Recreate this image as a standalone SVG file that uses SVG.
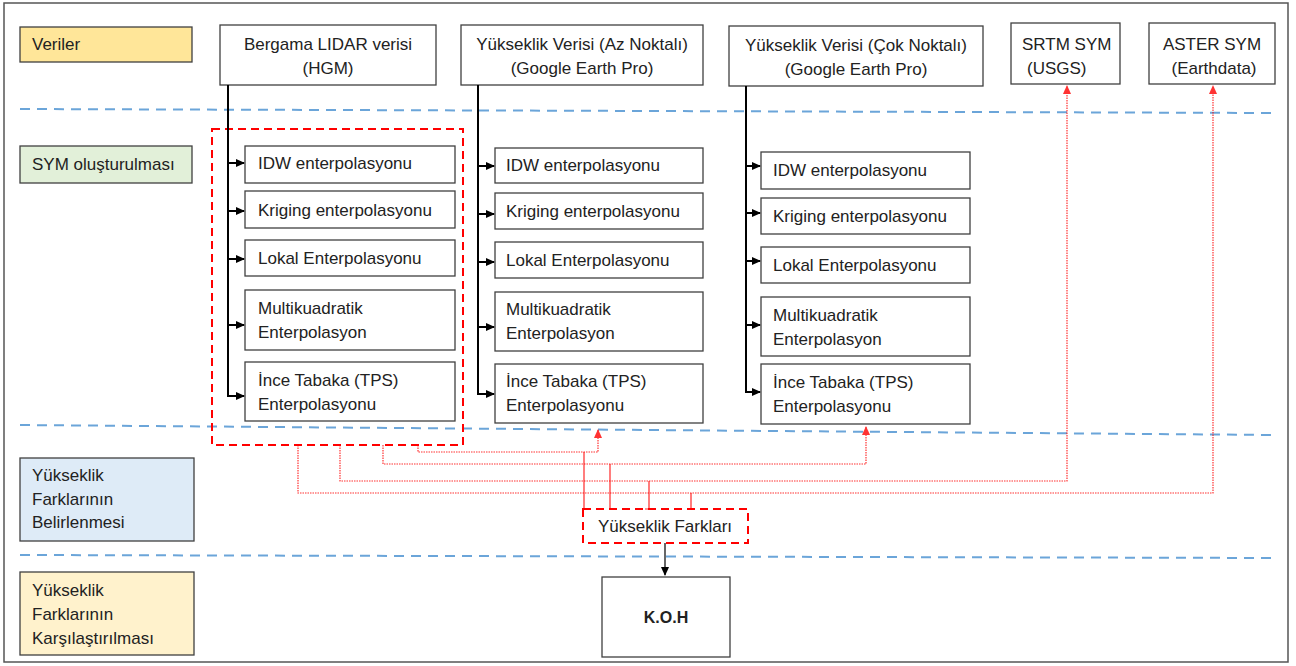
<svg xmlns="http://www.w3.org/2000/svg" width="1296" height="666" viewBox="0 0 1296 666">
<defs>
<marker id="ab" markerWidth="9" markerHeight="9" refX="8" refY="4.5" orient="auto" markerUnits="userSpaceOnUse"><path d="M0,0.5 L9,4.5 L0,8.5 z" fill="#000"/></marker>
<marker id="ar" markerWidth="9" markerHeight="9" refX="8" refY="4.5" orient="auto" markerUnits="userSpaceOnUse"><path d="M0,0.5 L9,4.5 L0,8.5 z" fill="#ff0000"/></marker>
</defs>
<style>
text{font-family:"Liberation Sans",Arial,sans-serif;font-size:17px;fill:#222}
.box{fill:#fff;stroke:#404040;stroke-width:1.3}
.lbl{stroke:#404040;stroke-width:1.3}
.c{text-anchor:middle}
.blue{stroke:#5b9bd5;stroke-width:2;stroke-dasharray:10,7;fill:none;opacity:0.9}
.rdash{fill:none;stroke:#ff0000;stroke-width:2;stroke-dasharray:8,5}
.blk{stroke:#000;stroke-width:2;fill:none}
.rdot{stroke:#ff0000;stroke-width:1.2;stroke-dasharray:1.5,1;fill:none;opacity:0.8}
.rsol{stroke:#ff0000;stroke-width:1.2;fill:none;opacity:0.85}
</style>
<rect x="0" y="0" width="1296" height="666" fill="#fff"/>
<rect x="4" y="3" width="1284" height="659" fill="none" stroke="#555" stroke-width="1.5"/>

<g id="lanes">
<line class="blue" x1="20" y1="109" x2="1276" y2="113"/>
<line class="blue" x1="20" y1="425" x2="1276" y2="435"/>
<line class="blue" x1="20" y1="555" x2="1276" y2="558"/>
</g>

<g id="lane-veriler"><rect class="lbl" x="20" y="27" width="172" height="35" fill="#ffe699"/><text x="32" y="50">Veriler</text></g>
<g id="lane-sym"><rect class="lbl" x="20" y="146" width="172" height="37" fill="#e2f0d9"/><text x="32" y="170">SYM oluşturulması</text></g>
<g id="lane-belirlenme"><rect class="lbl" x="20" y="458" width="174" height="83" fill="#deebf7"/><text x="32" y="481">Yükseklik</text><text x="32" y="505">Farklarının</text><text x="32" y="528">Belirlenmesi</text></g>
<g id="lane-karsilastirma"><rect class="lbl" x="20" y="572" width="174" height="83" fill="#fff2cc"/><text x="32" y="596">Yükseklik</text><text x="32" y="620">Farklarının</text><text x="32" y="644">Karşılaştırılması</text></g>

<g id="lidar"><rect class="box" x="220" y="25" width="216" height="60"/><text class="c" x="328" y="50">Bergama LIDAR verisi</text><text class="c" x="328" y="74">(HGM)</text></g>
<g id="az"><rect class="box" x="461" y="25" width="242" height="60"/><text class="c" x="582" y="50">Yükseklik Verisi (Az Noktalı)</text><text class="c" x="582" y="74">(Google Earth Pro)</text></g>
<g id="cok"><rect class="box" x="729" y="26" width="254" height="60"/><text class="c" x="856" y="51">Yükseklik Verisi (Çok Noktalı)</text><text class="c" x="856" y="75">(Google Earth Pro)</text></g>
<g id="srtm"><rect class="box" x="1011" y="23" width="109" height="61"/><text x="1022" y="50">SRTM SYM</text><text x="1027" y="74">(USGS)</text></g>
<g id="aster"><rect class="box" x="1149" y="23" width="126" height="61"/><text class="c" x="1212" y="50">ASTER SYM</text><text class="c" x="1214" y="74">(Earthdata)</text></g>

<g id="g1-idw"><rect class="box" x="245" y="146" width="210" height="37"/><text x="258" y="169">IDW enterpolasyonu</text></g>
<g id="g1-kriging"><rect class="box" x="245" y="191" width="210" height="37"/><text x="258" y="216">Kriging enterpolasyonu</text></g>
<g id="g1-lokal"><rect class="box" x="245" y="240" width="210" height="36"/><text x="258" y="264">Lokal Enterpolasyonu</text></g>
<g id="g1-multi"><rect class="box" x="245" y="290" width="210" height="60"/><text x="258" y="314">Multikuadratik</text><text x="258" y="338">Enterpolasyon</text></g>
<g id="g1-tps"><rect class="box" x="245" y="362" width="210" height="59"/><text x="258" y="386">İnce Tabaka (TPS)</text><text x="258" y="410">Enterpolasyonu</text></g>

<g id="g2-idw"><rect class="box" x="495" y="148" width="208" height="35"/><text x="506" y="171">IDW enterpolasyonu</text></g>
<g id="g2-kriging"><rect class="box" x="495" y="193" width="208" height="36"/><text x="506" y="217">Kriging enterpolasyonu</text></g>
<g id="g2-lokal"><rect class="box" x="495" y="242" width="208" height="36"/><text x="506" y="266">Lokal Enterpolasyonu</text></g>
<g id="g2-multi"><rect class="box" x="495" y="292" width="208" height="59"/><text x="506" y="315">Multikuadratik</text><text x="506" y="339">Enterpolasyon</text></g>
<g id="g2-tps"><rect class="box" x="495" y="364" width="208" height="59"/><text x="506" y="387">İnce Tabaka (TPS)</text><text x="506" y="411">Enterpolasyonu</text></g>

<g id="g3-idw"><rect class="box" x="761" y="152" width="209" height="37"/><text x="773" y="176">IDW enterpolasyonu</text></g>
<g id="g3-kriging"><rect class="box" x="761" y="198" width="209" height="36"/><text x="773" y="222">Kriging enterpolasyonu</text></g>
<g id="g3-lokal"><rect class="box" x="761" y="247" width="209" height="36"/><text x="773" y="271">Lokal Enterpolasyonu</text></g>
<g id="g3-multi"><rect class="box" x="761" y="297" width="209" height="59"/><text x="773" y="321">Multikuadratik</text><text x="773" y="345">Enterpolasyon</text></g>
<g id="g3-tps"><rect class="box" x="761" y="364" width="209" height="60"/><text x="773" y="388">İnce Tabaka (TPS)</text><text x="773" y="412">Enterpolasyonu</text></g>

<g id="lidar-group"><rect class="rdash" x="212" y="129" width="251" height="316"/></g>

<g id="farklar"><rect class="rdash" x="583" y="509" width="165" height="34" fill="#fff"/><text class="c" x="665" y="532">Yükseklik Farkları</text></g>
<g id="koh"><rect class="box" x="602" y="577" width="128" height="80"/><text class="c" x="666" y="623" font-weight="bold" style="font-weight:bold;font-size:16px">K.O.H</text></g>

<g id="connectors">
<path class="blk" d="M228,85 V397"/>
<path class="blk" d="M228,163 H244" marker-end="url(#ab)"/>
<path class="blk" d="M228,211 H244" marker-end="url(#ab)"/>
<path class="blk" d="M228,259 H244" marker-end="url(#ab)"/>
<path class="blk" d="M228,325 H244" marker-end="url(#ab)"/>
<path class="blk" d="M228,396 H244" marker-end="url(#ab)"/>

<path class="blk" d="M478,85 V395"/>
<path class="blk" d="M478,166 H494" marker-end="url(#ab)"/>
<path class="blk" d="M478,214 H494" marker-end="url(#ab)"/>
<path class="blk" d="M478,262 H494" marker-end="url(#ab)"/>
<path class="blk" d="M478,327 H494" marker-end="url(#ab)"/>
<path class="blk" d="M478,394 H494" marker-end="url(#ab)"/>

<path class="blk" d="M746,86 V393"/>
<path class="blk" d="M746,166 H760" marker-end="url(#ab)"/>
<path class="blk" d="M746,213 H760" marker-end="url(#ab)"/>
<path class="blk" d="M746,261 H760" marker-end="url(#ab)"/>
<path class="blk" d="M746,325 H760" marker-end="url(#ab)"/>
<path class="blk" d="M746,392 H760" marker-end="url(#ab)"/>

<path d="M665,543 V575" stroke="#000" stroke-width="1.2" fill="none" marker-end="url(#ab)"/>

<path class="rdot" d="M298,445 V493 H1213 V86" marker-end="url(#ar)"/>
<path class="rdot" d="M340,445 V481 H1067 V86" marker-end="url(#ar)"/>
<path class="rdot" d="M383,445 V464 H866 V427" marker-end="url(#ar)"/>
<path class="rdot" d="M418,445 V452 H598 V430" marker-end="url(#ar)"/>

<path class="rsol" d="M584,509 V452"/>
<path class="rsol" d="M610,509 V464"/>
<path class="rsol" d="M649,509 V481 M645,509 H653"/>
<path class="rsol" d="M691,509 V493 M687,509 H695"/>
</g>
</svg>
